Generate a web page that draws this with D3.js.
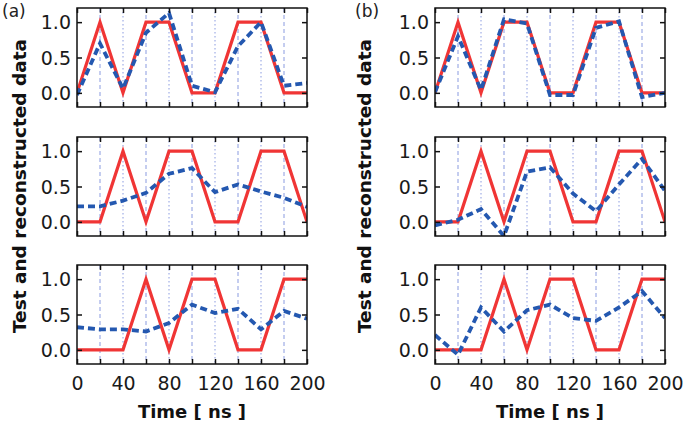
<!DOCTYPE html>
<html><head><meta charset="utf-8">
<script src="https://cdn.jsdelivr.net/npm/d3@7"></script>
<style>
html,body{margin:0;padding:0;background:#fff;}
svg{display:block;font-family:"DejaVu Sans",Verdana,sans-serif;}
</style></head>
<body>
<svg id="chart" width="685" height="425"></svg>
<script>
// ---- data ----
const times = [0, 20, 40, 60, 80, 100, 120, 140, 160, 180, 200];
const xTickValues = [0, 20, 40, 60, 80, 100, 120, 140, 160, 180, 200];
const xTickLabels = ["0", "", "40", "", "80", "", "120", "", "160", "", "200"];
const yTickValues = [0, 0.5, 1.0];
const yTickLabels = ["0.0", "0.5", "1.0"];
const panelLabels = ["(a)", "(b)"];
const yAxisTitle = "Test and reconstructed data";
const xAxisTitle = "Time [ ns ]";

// test signals (same for (a) and (b))
const testTop = [0, 1, 0, 1, 1, 0, 0, 1, 1, 0, 0];
const testMid = [0, 0, 1, 0, 1, 1, 0, 0, 1, 1, 0];
const testBot = [0, 0, 0, 1, 0, 1, 1, 0, 0, 1, 1];

// reconstructed data, column (a)
const reconATop = [-0.03, 0.70, 0.06, 0.85, 1.13, 0.10, 0.01, 0.66, 1.00, 0.10, 0.14];
const reconAMid = [0.22, 0.22, 0.30, 0.41, 0.68, 0.76, 0.42, 0.53, 0.43, 0.34, 0.21];
const reconABot = [0.32, 0.29, 0.29, 0.26, 0.38, 0.64, 0.52, 0.58, 0.29, 0.55, 0.44];

// reconstructed data, column (b)
const reconBTop = [0.01, 0.80, 0.04, 1.04, 0.98, -0.03, -0.03, 0.92, 1.01, -0.06, 0.00];
const reconBMid = [-0.05, 0.03, 0.18, -0.20, 0.71, 0.77, 0.40, 0.15, 0.53, 0.89, 0.44];
const reconBBot = [0.21, -0.07, 0.60, 0.26, 0.56, 0.64, 0.45, 0.41, 0.60, 0.83, 0.45];

const testSets = [testTop, testMid, testBot];
const reconSets = [[reconATop, reconAMid, reconABot], [reconBTop, reconBMid, reconBBot]];

// ---- layout ----
const colX = [77, 435];
const titleX = [19, 364];
const labelX = [2, 355];
const panelW = 230;
const rowY = [8, 137, 265];
const panelH = 99;

const svg = d3.select("#chart");
const x = d3.scaleLinear().domain([0, 200]).range([0, panelW]);
const y = d3.scaleLinear().domain([-0.2, 1.2]).range([panelH, 0]);

const line = d3.line().x((d, i) => x(times[i])).y(d => y(d));

const defs = svg.append("defs");
defs.append("clipPath").attr("id", "clip")
  .append("rect").attr("x", 0).attr("y", 0).attr("width", panelW).attr("height", panelH);

colX.forEach((cx, c) => {
  rowY.forEach((ry, r) => {
    const g = svg.append("g").attr("transform", `translate(${cx},${ry})`);

    // vertical guide lines
    g.selectAll("line.grid").data(times.slice(1, -1)).enter().append("line")
      .attr("x1", d => x(d)).attr("x2", d => x(d))
      .attr("y1", 0).attr("y2", panelH)
      .attr("stroke", "#8a9be0").attr("stroke-width", 1)
      .attr("stroke-dasharray", d => (d % 40 === 0) ? "1.5,2.5" : "4,3");

    const plot = g.append("g").attr("clip-path", "url(#clip)");
    plot.append("path").datum(testSets[r])
      .attr("d", line).attr("fill", "none")
      .attr("stroke", "#f03535").attr("stroke-width", 3.2)
      .attr("stroke-linejoin", "miter");
    plot.append("path").datum(reconSets[c][r])
      .attr("d", line).attr("fill", "none")
      .attr("stroke", "#2458b0").attr("stroke-width", 3.8)
      .attr("stroke-dasharray", "7,4");

    // frame
    g.append("rect").attr("x", 0).attr("y", 0).attr("width", panelW).attr("height", panelH)
      .attr("fill", "none").attr("stroke", "#111").attr("stroke-width", 1.5);

    // x ticks (bottom and top, inward)
    const xb = g.append("g").attr("transform", `translate(0,${panelH})`)
      .call(d3.axisBottom(x).tickValues(xTickValues).tickSizeInner(-5).tickSizeOuter(0)
        .tickFormat((d, i) => r === 2 ? xTickLabels[i] : ""));
    const xt = g.append("g")
      .call(d3.axisTop(x).tickValues(xTickValues).tickSizeInner(-5).tickSizeOuter(0).tickFormat(""));
    const yl = g.append("g")
      .call(d3.axisLeft(y).tickValues(yTickValues).tickSizeInner(-5).tickSizeOuter(0)
        .tickFormat((d, i) => yTickLabels[i]));
    const yr = g.append("g").attr("transform", `translate(${panelW},0)`)
      .call(d3.axisRight(y).tickValues(yTickValues).tickSizeInner(-5).tickSizeOuter(0).tickFormat(""));
    [xb, xt, yl, yr].forEach(a => {
      a.select(".domain").remove();
      a.selectAll(".tick line").attr("stroke", "#111").attr("stroke-width", 1.5);
      a.selectAll("text").attr("fill", "#1a1a1a").attr("font-size", 19)
        .attr("font-family", "'DejaVu Sans', Verdana, sans-serif");
    });
    yl.selectAll("text").attr("x", -6).attr("dy", "0.36em");
    xb.selectAll("text").attr("y", 13);
  });

  // y axis title
  svg.append("text")
    .attr("transform", `translate(${titleX[c]},${(rowY[0] + rowY[2] + panelH) / 2}) rotate(-90)`)
    .attr("text-anchor", "middle").attr("dominant-baseline", "central")
    .attr("font-weight", "bold").attr("font-size", 18.5)
    .attr("fill", "#111").text(yAxisTitle);

  // x axis title
  svg.append("text")
    .attr("x", cx + panelW / 2).attr("y", 418)
    .attr("text-anchor", "middle").attr("font-weight", "bold").attr("font-size", 18)
    .attr("fill", "#111").text(xAxisTitle);

  // panel label
  svg.append("text")
    .attr("x", labelX[c]).attr("y", 17)
    .attr("font-size", 17).attr("fill", "#222").text(panelLabels[c]);
});
</script>
</body></html>
